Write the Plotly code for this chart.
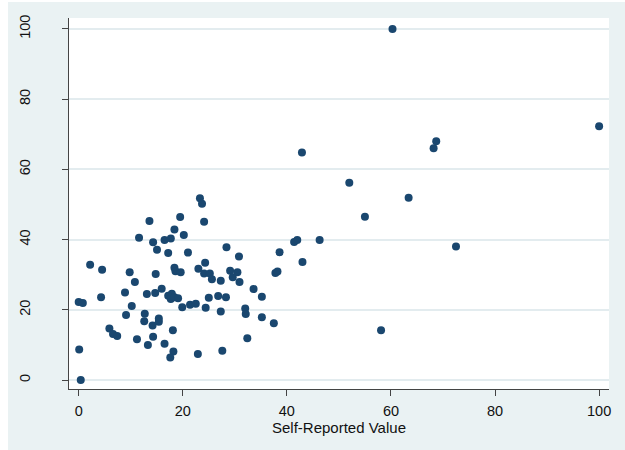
import plotly.graph_objects as go

# Data
self_reported = [0.4, 0.1, 0.0, 0.8, 2.2, 4.5, 4.3, 5.9, 6.6, 7.4,
                 8.9, 9.8, 10.2, 9.1, 10.8, 11.2, 11.6, 12.7, 12.6, 13.1,
                 13.3, 13.6, 14.2, 14.3, 14.3, 14.7, 14.8, 15.05, 15.4, 15.4,
                 15.95, 16.5, 16.5, 17.2, 17.2, 17.7, 17.9, 17.7, 18.4, 19.1,
                 18.1, 18.2, 17.6, 18.4, 18.6, 19.6, 18.4, 19.5, 19.9, 20.2,
                 21.0, 21.4, 22.5, 22.9, 23.0, 23.3, 23.7, 24.1, 24.1, 24.3,
                 24.4, 25.0, 25.2, 25.6, 26.8, 27.3, 27.3, 27.6, 28.3, 28.4,
                 29.1, 29.6, 30.5, 30.8, 30.9, 32.0, 32.1, 32.4, 33.6, 35.2,
                 35.2, 37.5, 37.8, 38.2, 38.6, 41.4, 42.0, 43.0, 42.9, 46.3,
                 52.0, 55.0, 58.1, 60.3, 63.4, 68.2, 68.7, 72.5, 100.0]
other_value = [0.0, 8.7, 22.2, 21.9, 32.8, 31.4, 23.6, 14.7, 13.1, 12.5,
               24.9, 30.7, 21.1, 18.5, 27.9, 11.6, 40.5, 18.9, 16.7, 24.5,
               10.0, 45.3, 15.5, 12.3, 39.2, 24.8, 30.2, 37.1, 17.5, 16.6,
               26.0, 10.3, 39.9, 36.2, 24.0, 40.3, 24.6, 23.1, 23.6, 23.3,
               14.2, 8.1, 6.4, 32.0, 31.0, 30.7, 42.9, 46.4, 20.7, 41.3,
               36.3, 21.4, 21.7, 7.4, 31.7, 51.8, 50.2, 45.1, 30.3, 33.4,
               20.6, 23.4, 30.3, 28.7, 23.9, 28.3, 19.5, 8.3, 23.6, 37.8,
               31.1, 29.3, 30.7, 35.2, 27.9, 20.4, 18.8, 11.9, 25.9, 23.7,
               17.9, 16.2, 30.5, 30.9, 36.4, 39.3, 39.9, 33.6, 64.8, 39.9,
               56.2, 46.5, 14.2, 100.0, 51.9, 66.0, 68.0, 38.0, 72.3]
tick_vals = [0, 20, 40, 60, 80, 100]
x_title = "Self-Reported Value"

W, H = 625, 450
L, R, T, B = 69, 16, 18, 61
pw, ph = W - L - R, H - T - B

def px_x(p):
    return (p - L) / pw

def px_y(p):
    return (H - B - p) / ph

fig = go.Figure()
fig.add_trace(go.Scatter(
    x=self_reported, y=other_value, mode="markers",
    marker=dict(color="#1a476f", size=8, line=dict(width=0)),
    showlegend=False, hoverinfo="x+y"))

family = "Liberation Sans, Arial, sans-serif"
tick_font = dict(family=family, size=14.5, color="#111111")
title_font = dict(family=family, size=15, color="#111111")

fig.update_layout(
    width=W, height=H,
    margin=dict(l=L, r=R, t=T, b=B, pad=0),
    paper_bgcolor="#eaf2f3",
    plot_bgcolor="#ffffff",
    font=tick_font,
    xaxis=dict(
        range=[-1.86, 101.9], tickvals=tick_vals, ticktext=[str(v) for v in tick_vals],
        showgrid=False, zeroline=False, showline=True, linecolor="#444444", linewidth=1,
        ticks="outside", ticklen=6, tickcolor="#444444", tickwidth=1,
        ticklabelstandoff=3, tickfont=tick_font,
        automargin=False,
    ),
    yaxis=dict(
        range=[-2.56, 103.1], tickvals=tick_vals, ticktext=[str(v) for v in tick_vals],
        showgrid=True, gridcolor="#e3ecef", gridwidth=1.5,
        zeroline=False, showline=True, linecolor="#444444", linewidth=1,
        ticks="outside", ticklen=6, tickcolor="#444444", tickwidth=1,
        tickangle=-90, ticklabelstandoff=26, tickfont=tick_font,
        automargin=False,
    ),
    annotations=[
        dict(text=x_title, xref="paper", yref="paper", x=0.5, y=px_y(427.5),
             xanchor="center", yanchor="middle", showarrow=False, font=title_font),
    ],
    shapes=[
        dict(type="rect", xref="paper", yref="paper", layer="below",
             x0=px_x(0), x1=px_x(8), y0=px_y(H), y1=px_y(0),
             fillcolor="#ffffff", line=dict(width=0)),
        dict(type="rect", xref="paper", yref="paper", layer="below",
             x0=px_x(0), x1=px_x(W), y0=px_y(2), y1=px_y(0),
             fillcolor="#ffffff", line=dict(width=0)),
    ],
)

fig.write_html(
    "out.html",
    config={"displayModeBar": False},
    post_script="document.body.style.margin='0px';document.body.style.overflow='hidden';",
)
